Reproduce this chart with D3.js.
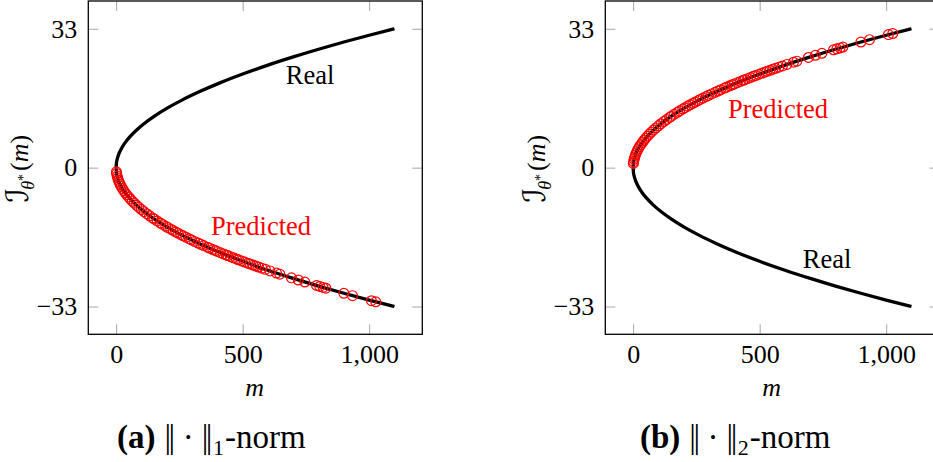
<!DOCTYPE html>
<html>
<head>
<meta charset="utf-8">
<script src="https://cdn.jsdelivr.net/npm/d3@7"></script>
<style>
  body { margin: 0; background: #fff; }
  svg text { font-family: "Liberation Serif", "Times New Roman", serif; }
</style>
</head>
<body>
<div id="chart"></div>
<script>
// real curve I(m) and its mirrored branch
const realM = [0, 1, 4, 10, 20, 35, 55, 80, 110, 150, 200, 260, 330, 410, 500, 600, 700, 800, 900, 1000, 1100];
const realUp = [0, 0.99, 1.99, 3.15, 4.45, 5.89, 7.38, 8.90, 10.44, 12.19, 14.07, 16.04, 18.07, 20.15, 22.25, 24.37, 26.32, 28.14, 29.85, 31.46, 33];
const realDown = [0, -0.99, -1.99, -3.15, -4.45, -5.89, -7.38, -8.90, -10.44, -12.19, -14.07, -16.04, -18.07, -20.15, -22.25, -24.37, -26.32, -28.14, -29.85, -31.46, -33];

// predicted samples
const predM = [1, 2, 4, 6, 9, 12, 16, 20, 25, 30, 36, 42, 49, 56, 64, 72, 81, 90, 100, 110, 121, 132, 144, 150, 162, 175, 184, 196, 205, 216, 225, 236, 245, 256, 265, 276, 289, 298, 310, 324, 335, 346, 361, 370, 382, 392, 400, 412, 424, 435, 441, 452, 463, 475, 484, 496, 508, 520, 529, 541, 552, 563, 576, 590, 608, 634, 647, 693, 720, 746, 792, 805, 818, 829, 900, 934, 1009, 1026];
const predL1 = [-0.99, -1.41, -1.99, -2.44, -2.99, -3.45, -3.98, -4.45, -4.98, -5.45, -5.97, -6.45, -6.97, -7.45, -7.96, -8.44, -8.96, -9.44, -9.95, -10.44, -10.95, -11.43, -11.94, -12.19, -12.66, -13.16, -13.50, -13.93, -14.25, -14.62, -14.93, -15.29, -15.57, -15.92, -16.20, -16.53, -16.92, -17.18, -17.52, -17.91, -18.21, -18.51, -18.91, -19.14, -19.45, -19.70, -19.90, -20.20, -20.49, -20.75, -20.90, -21.15, -21.41, -21.69, -21.89, -22.16, -22.43, -22.69, -22.89, -23.14, -23.38, -23.61, -23.88, -24.17, -24.53, -25.05, -25.31, -26.19, -26.70, -27.18, -28.00, -28.23, -28.46, -28.65, -29.85, -30.41, -31.61, -31.87];
const predL2 = [0.99, 1.41, 1.99, 2.44, 2.99, 3.45, 3.98, 4.45, 4.98, 5.45, 5.97, 6.45, 6.97, 7.45, 7.96, 8.44, 8.96, 9.44, 9.95, 10.44, 10.95, 11.43, 11.94, 12.19, 12.66, 13.16, 13.50, 13.93, 14.25, 14.62, 14.93, 15.29, 15.57, 15.92, 16.20, 16.53, 16.92, 17.18, 17.52, 17.91, 18.21, 18.51, 18.91, 19.14, 19.45, 19.70, 19.90, 20.20, 20.49, 20.75, 20.90, 21.15, 21.41, 21.69, 21.89, 22.16, 22.43, 22.69, 22.89, 23.14, 23.38, 23.61, 23.88, 24.17, 24.53, 25.05, 25.31, 26.19, 26.70, 27.18, 28.00, 28.23, 28.46, 28.65, 29.85, 30.41, 31.61, 31.87];

const xTicks = [0, 500, 1000];
const yTicks = [-33, 0, 33];

const width = 933;
const height = 462;

const svg = d3.select("#chart")
    .append("svg")
    .attr("width", width)
    .attr("height", height)
    .attr("viewBox", [0, 0, width, height])
    .attr("font-family", "'Liberation Serif', 'Times New Roman', serif");

// one panel
function panel(left, pred, realLabel, predLabel, caption, sub) {
  const top = 1, w = 334, h = 333.3;
  const x = d3.scaleLinear().domain([-110, 1210]).range([left, left + w]);
  const y = d3.scaleLinear().domain([-39.6, 39.6]).range([top + h, top]);
  const g = svg.append("g");

  const fmt = d3.format(",");

  // axes, ticks inside on all four sides
  const styleAxis = a => {
    a.attr("font-family", null).attr("font-size", null);
    a.select(".domain").remove();
    a.selectAll(".tick line").attr("stroke", "#a6a6a6").attr("stroke-width", 1);
    a.selectAll(".tick text").attr("font-size", 26).attr("fill", "#000");
  };
  g.append("g").attr("transform", `translate(0,${top + h})`)
    .call(d3.axisBottom(x).tickValues(xTicks).tickFormat(fmt).tickSizeInner(-10).tickSizeOuter(0).tickPadding(10.5))
    .call(styleAxis);
  g.append("g").attr("transform", `translate(0,${top})`)
    .call(d3.axisTop(x).tickValues(xTicks).tickFormat("").tickSizeInner(-10).tickSizeOuter(0))
    .call(styleAxis);
  g.append("g").attr("transform", `translate(${left},0)`)
    .call(d3.axisLeft(y).tickValues(yTicks).tickFormat(fmt).tickSizeInner(-10).tickSizeOuter(0).tickPadding(11))
    .call(styleAxis);
  g.append("g").attr("transform", `translate(${left + w},0)`)
    .call(d3.axisRight(y).tickValues(yTicks).tickFormat("").tickSizeInner(-10).tickSizeOuter(0))
    .call(styleAxis);

  // frame
  g.append("rect")
    .attr("x", left).attr("y", top).attr("width", w).attr("height", h)
    .attr("fill", "none").attr("stroke", "#000").attr("stroke-width", 1.3);

  const line = d3.line()
    .x((d, i) => x(realM[i]))
    .y(d => y(d))
    .curve(d3.curveMonotoneX);

  g.append("path").attr("d", line(realUp))
    .attr("fill", "none").attr("stroke", "#000").attr("stroke-width", 3.3);
  g.append("path").attr("d", line(realDown))
    .attr("fill", "none").attr("stroke", "#000").attr("stroke-width", 3.3);

  g.selectAll("circle.pred")
    .data(pred)
    .join("circle")
    .attr("class", "pred")
    .attr("cx", (d, i) => x(predM[i]))
    .attr("cy", d => y(d))
    .attr("r", 4.9)
    .attr("fill", "none")
    .attr("stroke", "#ff0000")
    .attr("stroke-width", 1.2);

  // curve labels
  g.append("text").attr("x", realLabel[0]).attr("y", realLabel[1])
    .attr("text-anchor", "middle").attr("font-size", 26.5).text("Real");
  g.append("text").attr("x", predLabel[0]).attr("y", predLabel[1])
    .attr("text-anchor", "middle").attr("font-size", 26.5).attr("fill", "#ff0000").text("Predicted");

  // axis titles
  g.append("text").attr("x", x(500) + 12).attr("y", 396)
    .attr("text-anchor", "middle").attr("font-size", 26).attr("font-style", "italic").text("m");

  const yl = g.append("text")
    .attr("transform", `translate(${left - 60},${y(0) + 1}) rotate(-90)`)
    .attr("text-anchor", "middle").attr("font-size", 26);
  yl.append("tspan").style("font-family", "'DejaVu Serif', 'DejaVu Sans', serif").attr("font-style", "italic").attr("font-size", 31).text("ℐ");
  yl.append("tspan").attr("font-size", 18).attr("font-style", "italic").attr("dy", 6).attr("dx", -2).text("θ");
  yl.append("tspan").attr("font-size", 14).attr("dy", -6).text("*");
  yl.append("tspan").attr("dy", 0).attr("dx", 3).text("(");
  yl.append("tspan").attr("font-style", "italic").text("m");
  yl.append("tspan").text(")");

  // caption: (x) ||.||_k-norm
  const c = g.append("text").attr("x", caption[0]).attr("y", 448).attr("font-size", 33);
  c.append("tspan").attr("font-weight", "bold").text(caption[2]);
  c.append("tspan").attr("dx", 9).attr("letter-spacing", -2.5).text("||");
  c.append("tspan").attr("dx", 10).text("\u00b7");
  c.append("tspan").attr("dx", 8).attr("letter-spacing", -2.5).text("||");
  c.append("tspan").attr("font-size", 22).attr("dy", 7).attr("dx", 3).text(sub);
  c.append("tspan").attr("dy", -7).attr("dx", 1).text("-norm");
}

panel(88.3, predL1, [310, 84], [261, 235], [117, 0, "(a)"], "1");
panel(605.3, predL2, [827, 268], [778, 118], [640, 0, "(b)"], "2");
</script>
</body>
</html>
